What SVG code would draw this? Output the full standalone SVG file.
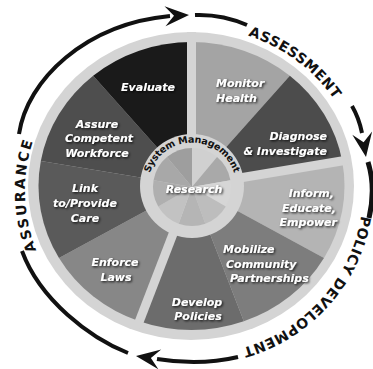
<svg xmlns="http://www.w3.org/2000/svg" width="373" height="369" viewBox="0 0 373 369">
<defs>
<style>
.seg{font-family:"DejaVu Sans","Liberation Sans",sans-serif;font-weight:bold;font-style:italic;font-size:11px;fill:#fff;filter:url(#sh)}
.outer{font-family:"DejaVu Sans","Liberation Sans",sans-serif;font-weight:bold;font-size:14px;fill:#111;letter-spacing:0.5px}
.hubt{font-family:"DejaVu Sans","Liberation Sans",sans-serif;font-weight:bold;font-size:9.6px;fill:#111;letter-spacing:-0.2px}
.arc{fill:none;stroke:#111;stroke-width:4;stroke-linecap:butt}
.head{fill:#111}
.div{stroke:#d4d4d4;stroke-width:9}
</style>
<filter id="sh" x="-10%" y="-30%" width="130%" height="170%">
<feDropShadow dx="1.2" dy="1.2" stdDeviation="0.8" flood-color="#000" flood-opacity="0.85"/>
</filter>
<path id="tpA" d="M223.3,29.5 A169,164 0 0 1 347.2,121.7"/>
<path id="tpP" d="M362.4,205.3 A169,164 0 0 1 232,350.8"/>
<path id="tpU" d="M47.6,273 A169,164 0 0 1 43.4,116.5"/>
<path id="tpS" d="M148.2,179.3 A44.5,44.5 0 0 1 235.8,179.3"/>
</defs>
<rect width="373" height="369" fill="#fff"/>
<ellipse cx="191" cy="186" rx="163" ry="154" fill="#d4d4d4"/>
<g id="monitor"><path d="M191.5,186 L191.5,42 A153,144 0 0 1 289.85,75.7 Z" fill="#a4a4a4"/>
<text class="seg"><tspan x="216" y="87">Monitor</tspan><tspan x="216" y="101.5">Health</tspan></text></g>
<g id="diagnose"><path d="M191.5,186 L289.85,75.7 A153,144 0 0 1 342.17,161 Z" fill="#4c4c4c"/>
<text class="seg" text-anchor="end"><tspan x="327" y="140">Diagnose</tspan><tspan x="327" y="154.5">&amp; Investigate</tspan></text></g>
<g id="inform"><path d="M191.5,186 L342.17,161 A153,144 0 0 1 324,258 Z" fill="#b4b4b4"/>
<text class="seg" text-anchor="end"><tspan x="334" y="197">Inform,</tspan><tspan x="336" y="212">Educate,</tspan><tspan x="337" y="226">Empower</tspan></text></g>
<g id="mobilize"><path d="M191.5,186 L324,258 A153,144 0 0 1 243.83,321.3 Z" fill="#7d7d7d"/>
<text class="seg"><tspan x="223" y="253">Mobilize</tspan><tspan x="226" y="267.5">Community</tspan><tspan x="230" y="282">Partnerships</tspan></text></g>
<g id="develop"><path d="M191.5,186 L243.83,321.3 A153,144 0 0 1 139.17,321.3 Z" fill="#6c6c6c"/>
<text class="seg" text-anchor="middle"><tspan x="197" y="306">Develop</tspan><tspan x="198" y="320">Policies</tspan></text></g>
<g id="enforce"><path d="M191.5,186 L139.17,321.3 A153,144 0 0 1 59,258 Z" fill="#878787"/>
<text class="seg" text-anchor="middle"><tspan x="115" y="266">Enforce</tspan><tspan x="116" y="281">Laws</tspan></text></g>
<g id="link"><path d="M191.5,186 L59,258 A153,144 0 0 1 40.83,161 Z" fill="#5a5a5a"/>
<text class="seg" text-anchor="middle"><tspan x="85" y="192">Link</tspan><tspan x="85" y="207">to/Provide</tspan><tspan x="85" y="222">Care</tspan></text></g>
<g id="assure"><path d="M191.5,186 L40.83,161 A153,144 0 0 1 93.15,75.7 Z" fill="#4e4e4e"/>
<text class="seg" text-anchor="middle"><tspan x="97" y="128">Assure</tspan><tspan x="99" y="142">Competent</tspan><tspan x="97" y="157">Workforce</tspan></text></g>
<g id="evaluate"><path d="M191.5,186 L93.15,75.7 A153,144 0 0 1 191.5,42 Z" fill="#1a1a1a"/>
<text class="seg" text-anchor="middle" x="148" y="91">Evaluate</text></g>
<g id="dividers">
<line class="div" x1="191.5" y1="186" x2="191.5" y2="32"/>
<line class="div" x1="191.5" y1="186" x2="349.1" y2="159.8"/>
<line class="div" x1="191.5" y1="186" x2="136.8" y2="327.9"/>
</g>
<g id="hub">
<circle cx="192" cy="186" r="52" fill="#d4d4d4"/>
<path d="M192,187 L192,148 A39,39 0 0 1 217.07,157.12 Z" fill="#d0d0d0"/>
<path d="M192,187 L217.07,157.12 A39,39 0 0 1 230.41,180.23 Z" fill="#a9a9a9"/>
<path d="M192,187 L230.41,180.23 A39,39 0 0 1 225.77,206.5 Z" fill="#d6d6d6"/>
<path d="M192,187 L225.77,206.5 A39,39 0 0 1 205.34,223.65 Z" fill="#bdbdbd"/>
<path d="M192,187 L205.34,223.65 A39,39 0 0 1 178.66,223.65 Z" fill="#b5b5b5"/>
<path d="M192,187 L178.66,223.65 A39,39 0 0 1 158.23,206.5 Z" fill="#c2c2c2"/>
<path d="M192,187 L158.23,206.5 A39,39 0 0 1 153.59,180.23 Z" fill="#afafaf"/>
<path d="M192,187 L153.59,180.23 A39,39 0 0 1 166.93,157.12 Z" fill="#a8a8a8"/>
<path d="M192,187 L166.93,157.12 A39,39 0 0 1 192,148 Z" fill="#9e9e9e"/>
<text class="hubt" text-anchor="middle"><textPath href="#tpS" startOffset="50%">System Management</textPath></text>
<text class="seg" text-anchor="middle" x="194" y="193">Research</text>
</g>
<g id="connectors">
<path class="arc" d="M19,134 C27,80 85,24 170,16"/>
<polygon class="head" points="189,15 164.5,6.2 174,15.8 165.5,26.2"/>
<path class="arc" d="M195,15 Q222,14 247,25"/>
<path class="arc" d="M352,106 Q359,118 362,133"/>
<polygon class="head" points="366,157 352.3,134.8 363.6,142.2 372.1,131.6"/>
<path class="arc" d="M368,162 Q376,188 369,218" style="stroke-width:5"/>
<path class="arc" d="M238,357 Q200,366 157,359"/>
<polygon class="head" points="136,356 161.2,349.5 150.9,358.1 158.4,369.3"/>
<path class="arc" d="M128,353 C90,338 40,300 22,251"/>
</g>
<g id="phase-labels">
<text class="outer" text-anchor="middle"><textPath href="#tpA" startOffset="50%">ASSESSMENT</textPath></text>
<text class="outer" text-anchor="middle"><textPath href="#tpP" startOffset="50%">POLICY DEVELOPMENT</textPath></text>
<text class="outer" text-anchor="middle" style="letter-spacing:2px"><textPath href="#tpU" startOffset="50%">ASSURANCE</textPath></text>
</g>
</svg>
